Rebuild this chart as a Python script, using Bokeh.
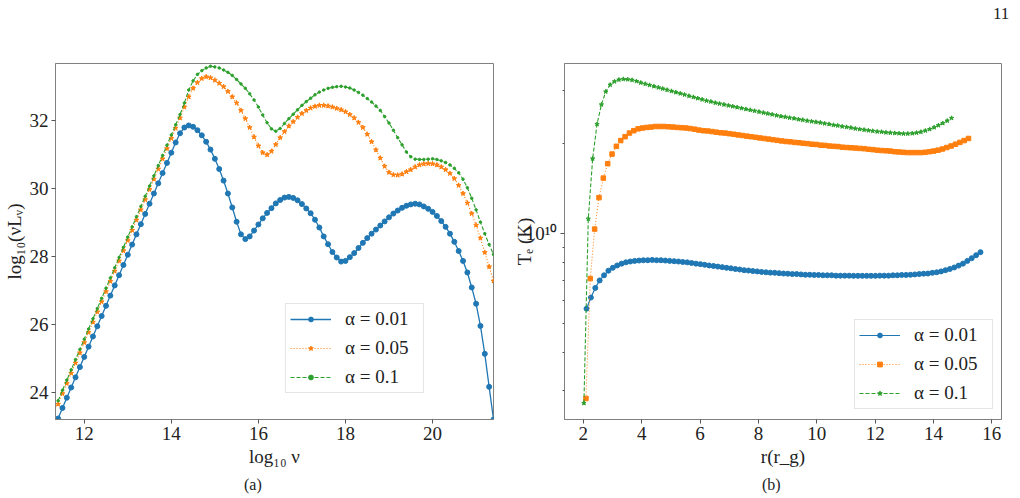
import numpy as np
from bokeh.plotting import figure
from bokeh.models import (Range1d, FixedTicker, Legend, LegendItem, Div,
                          CustomJSTickFormatter)
from bokeh.layouts import column, row
from bokeh.embed import file_html
from bokeh.resources import INLINE

# ---------------- data: panel (a) ----------------
log_nu = [11.4, 11.5, 11.6, 11.7, 11.8, 11.9, 12.0, 12.1, 12.2, 12.3,
          12.4, 12.5, 12.6, 12.7, 12.8, 12.9, 13.0, 13.1, 13.2, 13.3,
          13.4, 13.5, 13.6, 13.7, 13.8, 13.9, 14.0, 14.1, 14.2, 14.3,
          14.4, 14.5, 14.6, 14.7, 14.8, 14.9, 15.0, 15.1, 15.2, 15.3,
          15.4, 15.5, 15.6, 15.7, 15.8, 15.9, 16.0, 16.1, 16.2, 16.3,
          16.4, 16.5, 16.6, 16.7, 16.8, 16.9, 17.0, 17.1, 17.2, 17.3,
          17.4, 17.5, 17.6, 17.7, 17.8, 17.9, 18.0, 18.1, 18.2, 18.3,
          18.4, 18.5, 18.6, 18.7, 18.8, 18.9, 19.0, 19.1, 19.2, 19.3,
          19.4, 19.5, 19.6, 19.7, 19.8, 19.9, 20.0, 20.1, 20.2, 20.3,
          20.4, 20.5, 20.6, 20.7, 20.8, 20.9, 21.0, 21.1, 21.2, 21.3,
          21.4]

lum_a001 = [23.25, 23.56, 23.86, 24.16, 24.46, 24.76, 25.06, 25.36, 25.66, 25.96,
            26.26, 26.56, 26.86, 27.16, 27.46, 27.76, 28.06, 28.36, 28.66, 28.96,
            29.26, 29.56, 29.86, 30.16, 30.46, 30.76, 31.06, 31.36, 31.63, 31.80,
            31.86, 31.82, 31.72, 31.57, 31.38, 31.15, 30.88, 30.58, 30.24, 29.86,
            29.45, 29.03, 28.66, 28.52, 28.60, 28.77, 28.95, 29.13, 29.29, 29.43,
            29.57, 29.67, 29.74, 29.76, 29.73, 29.66, 29.55, 29.42, 29.28, 29.09,
            28.86, 28.60, 28.37, 28.14, 27.98, 27.86, 27.88, 27.99, 28.11, 28.26,
            28.41, 28.55, 28.68, 28.80, 28.92, 29.04, 29.16, 29.27, 29.36, 29.44,
            29.50, 29.54, 29.56, 29.54, 29.48, 29.41, 29.32, 29.20, 29.05, 28.88,
            28.68, 28.44, 28.17, 27.88, 27.54, 27.10, 26.62, 25.97, 25.15, 24.18,
            23.22]

lum_a005 = [23.67, 23.98, 24.28, 24.58, 24.88, 25.18, 25.48, 25.78, 26.08, 26.38,
            26.68, 26.98, 27.28, 27.58, 27.88, 28.18, 28.48, 28.78, 29.08, 29.38,
            29.68, 29.98, 30.28, 30.58, 30.88, 31.18, 31.48, 31.78, 32.08, 32.40,
            32.70, 32.95, 33.12, 33.24, 33.29, 33.26, 33.19, 33.10, 33.00, 32.86,
            32.70, 32.52, 32.30, 32.06, 31.80, 31.52, 31.26, 31.06, 31.00, 31.10,
            31.30, 31.50, 31.68, 31.84, 31.97, 32.10, 32.21, 32.30, 32.37, 32.42,
            32.45, 32.45, 32.43, 32.40, 32.36, 32.32, 32.26, 32.18, 32.08, 31.95,
            31.80, 31.60, 31.38, 31.14, 30.90, 30.66, 30.48, 30.41, 30.40, 30.43,
            30.50, 30.56, 30.64, 30.70, 30.73, 30.74, 30.73, 30.70, 30.64, 30.56,
            30.45, 30.30, 30.10, 29.86, 29.58, 29.27, 28.93, 28.55, 28.13, 27.71,
            27.29]

lum_a01 = [23.77, 24.08, 24.38, 24.68, 24.98, 25.28, 25.58, 25.88, 26.18, 26.48,
           26.78, 27.08, 27.38, 27.68, 27.98, 28.28, 28.58, 28.88, 29.18, 29.48,
           29.78, 30.08, 30.38, 30.68, 30.98, 31.28, 31.58, 31.88, 32.18, 32.52,
           32.90, 33.17, 33.36, 33.47, 33.55, 33.60, 33.58, 33.55, 33.49, 33.42,
           33.33, 33.21, 33.08, 32.95, 32.79, 32.61, 32.40, 32.17, 31.94, 31.76,
           31.69, 31.77, 31.92, 32.06, 32.19, 32.32, 32.45, 32.56, 32.66, 32.76,
           32.84, 32.90, 32.95, 32.98, 33.00, 33.01, 32.99, 32.96, 32.90, 32.83,
           32.75, 32.65, 32.55, 32.43, 32.30, 32.12, 31.93, 31.72, 31.50, 31.29,
           31.08, 30.94, 30.87, 30.86, 30.86, 30.87, 30.88, 30.86, 30.82, 30.77,
           30.70, 30.60, 30.47, 30.28, 30.03, 29.72, 29.38, 29.02, 28.68, 28.36,
           28.07]

xticks_a = [12, 14, 16, 18, 20]
yticks_a = [24, 26, 28, 30, 32]

# ---------------- data: panel (b) ----------------
# radii (r_g): evenly spaced sampling, end points
r_a001 = np.linspace(2.11, 15.61, 91)
r_a005 = np.linspace(2.09, 15.20, 89)
r_a01 = np.linspace(2.02, 14.62, 85)

# electron temperature in units of 1e9 K
te_a001 = [5.62, 6.12, 6.59, 6.98, 7.26, 7.52, 7.69, 7.83, 7.94, 8.02,
           8.07, 8.11, 8.13, 8.15, 8.15, 8.17, 8.15, 8.15, 8.13, 8.11,
           8.09, 8.07, 8.04, 8.02, 7.98, 7.94, 7.91, 7.87, 7.83, 7.80,
           7.76, 7.73, 7.69, 7.66, 7.62, 7.59, 7.55, 7.53, 7.50, 7.48,
           7.45, 7.43, 7.41, 7.40, 7.38, 7.36, 7.35, 7.33, 7.33, 7.31,
           7.29, 7.29, 7.28, 7.28, 7.26, 7.26, 7.26, 7.24, 7.24, 7.24,
           7.24, 7.23, 7.23, 7.23, 7.23, 7.23, 7.23, 7.24, 7.24, 7.24,
           7.26, 7.26, 7.28, 7.28, 7.29, 7.31, 7.33, 7.35, 7.36, 7.40,
           7.43, 7.48, 7.55, 7.62, 7.71, 7.82, 7.94, 8.11, 8.28, 8.47,
           8.67]

te_a005 = [2.82, 7.08, 10.35, 13.18, 15.31, 17.10, 18.41, 19.54, 20.42, 21.04,
           21.63, 22.03, 22.34, 22.49, 22.59, 22.65, 22.75, 22.75, 22.75, 22.70,
           22.65, 22.59, 22.54, 22.49, 22.39, 22.28, 22.13, 22.03, 21.98, 21.88,
           21.78, 21.68, 21.63, 21.53, 21.43, 21.33, 21.23, 21.13, 21.04, 20.94,
           20.84, 20.75, 20.65, 20.56, 20.46, 20.37, 20.28, 20.23, 20.14, 20.09,
           20.00, 19.95, 19.86, 19.82, 19.72, 19.68, 19.59, 19.54, 19.50, 19.41,
           19.36, 19.32, 19.28, 19.23, 19.19, 19.10, 19.05, 18.97, 18.92, 18.88,
           18.84, 18.75, 18.71, 18.66, 18.62, 18.62, 18.62, 18.62, 18.66, 18.75,
           18.84, 18.97, 19.14, 19.36, 19.59, 19.86, 20.14, 20.42, 20.75]

te_a01 = [2.72, 11.20, 17.78, 23.17, 26.92, 29.72, 31.33, 32.14, 32.58, 32.73,
          32.66, 32.51, 32.21, 31.84, 31.55, 31.26, 30.97, 30.69, 30.41, 30.13,
          29.85, 29.58, 29.31, 29.04, 28.77, 28.51, 28.25, 27.99, 27.73, 27.54,
          27.29, 27.10, 26.92, 26.73, 26.55, 26.36, 26.18, 26.00, 25.82, 25.64,
          25.47, 25.29, 25.12, 24.95, 24.77, 24.60, 24.49, 24.32, 24.21, 24.04,
          23.93, 23.77, 23.66, 23.55, 23.44, 23.28, 23.17, 23.01, 22.91, 22.75,
          22.65, 22.54, 22.39, 22.28, 22.18, 22.08, 21.98, 21.88, 21.83, 21.73,
          21.68, 21.63, 21.58, 21.53, 21.53, 21.58, 21.68, 21.83, 22.03, 22.28,
          22.59, 22.96, 23.33, 23.77, 24.27]

xticks_b = [2, 4, 6, 8, 10, 12, 14, 16]
yticks_b = [1e10]
yminor_b = [3e9, 4e9, 5e9, 6e9, 7e9, 8e9, 9e9, 2e10, 3e10]

labels = ["α = 0.01", "α = 0.05", "α = 0.1"]
colors = ["#1f77b4", "#ff7f0e", "#2ca02c"]

FONT = "'Liberation Serif', serif"
FRAME = "#808080"


def style(p):
    p.outline_line_color = FRAME
    p.outline_line_width = 1
    p.xgrid.visible = False
    p.ygrid.visible = False
    p.background_fill_color = "white"
    p.border_fill_color = "white"
    for ax in p.axis:
        ax.axis_line_color = FRAME
        ax.major_tick_line_color = "#555555"
        ax.minor_tick_line_color = "#555555"
        ax.major_tick_out = 4
        ax.major_tick_in = 0
        ax.minor_tick_out = 2
        ax.minor_tick_in = 0
        ax.major_label_text_font = FONT
        ax.major_label_text_font_size = "19px"
        ax.major_label_text_color = "#222222"
        ax.major_label_standoff = 3
        ax.axis_label_text_font = FONT
        ax.axis_label_text_font_size = "19px"
        ax.axis_label_text_font_style = "normal"
        ax.axis_label_text_color = "#222222"
        ax.axis_label_standoff = 3


def make_legend(items, location):
    lg = Legend(items=items, location=location)
    lg.label_text_font = FONT
    lg.label_text_font_size = "19px"
    lg.label_text_color = "#222222"
    lg.glyph_width = 41
    lg.glyph_height = 12
    lg.label_height = 20
    lg.label_width = 74
    lg.label_standoff = 14
    lg.spacing = 7
    lg.padding = 4
    lg.margin = 0
    lg.border_line_color = "#cccccc"
    lg.border_line_width = 1
    lg.background_fill_color = "white"
    lg.background_fill_alpha = 1.0
    return lg


# ---------------- panel (a) ----------------
p1 = figure(width=510, height=444, output_backend="svg", toolbar_location=None,
            x_range=Range1d(11.34, 21.4), y_range=Range1d(23.22, 33.68),
            min_border_left=51, min_border_right=17, min_border_top=32,
            min_border_bottom=55)
style(p1)
p1.xaxis.ticker = FixedTicker(ticks=xticks_a)
p1.yaxis.ticker = FixedTicker(ticks=yticks_a)
p1.xaxis.axis_label = "log₁₀ ν"
p1.yaxis.axis_label = "log₁₀(νLᵥ)"
p1.yaxis.axis_label_standoff = 2

l1 = p1.line(log_nu, lum_a001, line_color=colors[0], line_width=1.3)
s1 = p1.scatter(log_nu, lum_a001, marker="circle", size=5, color=colors[0])
l2 = p1.line(log_nu, lum_a005, line_color=colors[1], line_width=1.1, line_dash="1 2")
s2 = p1.scatter(log_nu, lum_a005, marker="star", size=5, color=colors[1])
l3 = p1.line(log_nu, lum_a01, line_color=colors[2], line_width=1.1, line_dash="4 2")
s3 = p1.scatter(log_nu, lum_a01, marker="circle", size=2.5, color=colors[2])

p1.add_layout(make_legend([LegendItem(label=labels[0], renderers=[l1, s1]),
                           LegendItem(label=labels[1], renderers=[l2, s2]),
                           LegendItem(label=labels[2], renderers=[l3, s3])],
                          (230, 26)))

# ---------------- panel (b) ----------------
p2 = figure(width=510, height=444, output_backend="svg", toolbar_location=None,
            x_range=Range1d(1.355, 16.33), y_range=Range1d(2.4e9, 3.69e10),
            y_axis_type="log",
            min_border_left=49, min_border_right=19, min_border_top=33,
            min_border_bottom=55)
style(p2)
p2.xaxis.ticker = FixedTicker(ticks=xticks_b)
p2.yaxis.ticker = FixedTicker(ticks=yticks_b, minor_ticks=yminor_b)
p2.yaxis.formatter = CustomJSTickFormatter(code="return '10\u00b9\u2070';")
p2.xaxis.axis_label = "r(r_g)"
p2.yaxis.axis_label = "Tₑ (K)"
p2.yaxis.axis_label_standoff = -12

te1 = [v * 1e9 for v in te_a001]
te2 = [v * 1e9 for v in te_a005]
te3 = [v * 1e9 for v in te_a01]

m1 = p2.line(r_a001, te1, line_color=colors[0], line_width=1.2)
n1 = p2.scatter(r_a001, te1, marker="circle", size=5, color=colors[0])
m2 = p2.line(r_a005, te2, line_color=colors[1], line_width=1.0, line_dash="1 2")
n2 = p2.scatter(r_a005, te2, marker="square", size=4.5, color=colors[1])
m3 = p2.line(r_a01, te3, line_color=colors[2], line_width=1.1, line_dash="4 2")
n3 = p2.scatter(r_a01, te3, marker="star", size=4.5, color=colors[2])

p2.add_layout(make_legend([LegendItem(label=labels[0], renderers=[m1, n1]),
                           LegendItem(label=labels[1], renderers=[m2, n2]),
                           LegendItem(label=labels[2], renderers=[m3, n3])],
                          (290, 10)))

# ---------------- page texts ----------------
span = "position:absolute;font-family:'Liberation Serif',serif;color:#222;white-space:nowrap;"
top = Div(text=f'<span style="{span}left:993px;top:2px;font-size:17px;">11</span>',
          width=1020, height=30, margin=(0, 0, 0, 0))
bottom = Div(text=(f'<span style="{span}left:244px;top:0px;font-size:16px;">(a)</span>'
                   f'<span style="{span}left:762px;top:0px;font-size:16px;">(b)</span>'),
             width=1020, height=24, margin=(0, 0, 0, 0))

p1.margin = (0, 0, 0, 0)
p2.margin = (0, 0, 0, 0)
layout = column(top, row(p1, p2, spacing=0), bottom, spacing=0)

open("out.html", "w").write(file_html(layout, INLINE))
